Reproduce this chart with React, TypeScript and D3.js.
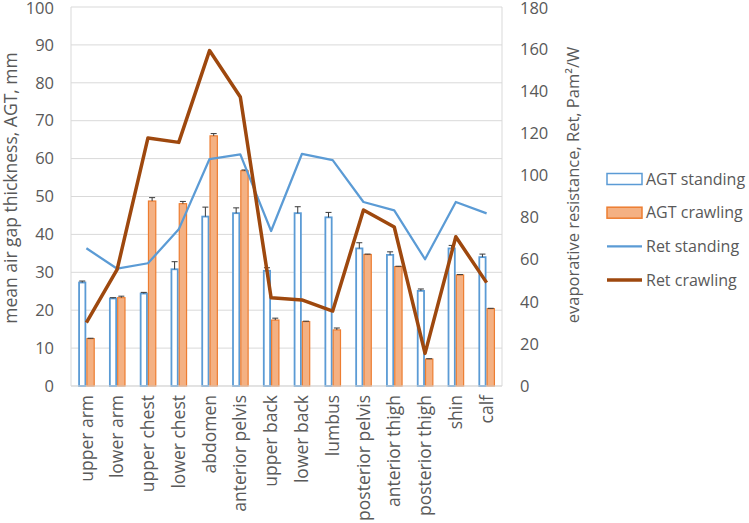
import React from "react";
import * as d3 from "d3";

const categories = ["upper arm", "lower arm", "upper chest", "lower chest", "abdomen", "anterior pelvis", "upper back", "lower back", "lumbus", "posterior pelvis", "anterior thigh", "posterior thigh", "shin", "calf"];
const agtStanding = [27.3, 23.1, 24.4, 30.8, 44.7, 45.6, 30.4, 45.6, 44.5, 36.3, 34.6, 25.1, 36.3, 34.0];
const agtStandingErr = [0.4, 0.2, 0.3, 2.0, 2.5, 1.4, 0.8, 1.7, 1.3, 1.5, 0.8, 0.5, 0.8, 0.8];
const agtCrawling = [12.5, 23.3, 48.8, 48.1, 66.0, 56.8, 17.4, 17.0, 14.8, 34.7, 31.5, 7.1, 29.3, 20.4];
const agtCrawlingErr = [0.1, 0.4, 0.9, 0.6, 0.6, 0.2, 0.5, 0.1, 0.5, 0.1, 0.1, 0.1, 0.1, 0.1];
const retStanding = [65.4, 55.7, 58.3, 74.4, 107.8, 110.0, 73.6, 110.2, 107.3, 87.4, 83.4, 60.2, 87.4, 82.0];
const retCrawling = [30.1, 55.4, 117.8, 115.7, 159.3, 137.3, 41.9, 40.9, 35.6, 83.6, 75.5, 15.5, 70.9, 49.1];
const leftTicks = [0, 10, 20, 30, 40, 50, 60, 70, 80, 90, 100];
const rightTicks = [0, 20, 40, 60, 80, 100, 120, 140, 160, 180];

const W = 749, H = 523;
const L = 71, R = 502, T = 7, B = 386;
const FONT = "'Open Sans', 'Noto Sans', sans-serif";
const TXT = "#595959";
const BLUE = "#5B9BD5";
const ORANGE = "#ED7D31";
const ORANGE_FILL = "#F4B183";
const BROWN = "#9E480E";

export default function App() {
  const x0 = d3.scaleBand<string>().domain(categories).range([L, R]).paddingInner(0.46).paddingOuter(0.23);
  const bw = x0.bandwidth();
  const x1 = d3.scaleBand<string>().domain(["s", "c"]).range([0, bw]);
  const yL = d3.scaleLinear().domain([0, 100]).range([B, T]);
  const yR = d3.scaleLinear().domain([0, 180]).range([B, T]);
  const cx = (c: string) => (x0(c) as number) + bw / 2;
  const line = d3.line<number>().x((_, i) => cx(categories[i])).y((d) => yR(d));

  const errBar = (x: number, v: number, e: number, key: string) => (
    <g key={key} stroke="#3a3a3a" strokeWidth={1}>
      <line x1={x} x2={x} y1={yL(v)} y2={yL(v + e)} />
      <line x1={x - 3} x2={x + 3} y1={yL(v + e)} y2={yL(v + e)} />
    </g>
  );

  const legend = [
    { label: "AGT standing", type: "bar", fill: "#fff", stroke: BLUE },
    { label: "AGT crawling", type: "bar", fill: ORANGE_FILL, stroke: ORANGE },
    { label: "Ret standing", type: "line", stroke: BLUE, w: 2.25 },
    { label: "Ret crawling", type: "line", stroke: BROWN, w: 3.5 },
  ];

  return (
    <svg width={W} height={H} style={{ position: "absolute", left: 0, top: 0, background: "#fff" }} fontFamily={FONT}>
      <rect x={0} y={0} width={W} height={H} fill="#fff" />
      {leftTicks.map((t) => (
        <line key={"g" + t} x1={L} x2={R} y1={yL(t)} y2={yL(t)} stroke="#D9D9D9" strokeWidth={1} />
      ))}
      <line x1={L} x2={L} y1={T} y2={B} stroke="#D9D9D9" />
      <line x1={R} x2={R} y1={T} y2={B} stroke="#D9D9D9" />
      {categories.map((c, i) => {
        const xs = (x0(c) as number) + (x1("s") as number);
        const xc = (x0(c) as number) + (x1("c") as number);
        const w = x1.bandwidth();
        return (
          <g key={c}>
            <rect x={xs + 1} y={yL(agtStanding[i])} width={w - 2} height={B - yL(agtStanding[i])} fill="#fff" stroke={BLUE} strokeWidth={1.8} />
            <rect x={xc + 0.5} y={yL(agtCrawling[i])} width={w - 1} height={B - yL(agtCrawling[i])} fill={ORANGE_FILL} stroke={ORANGE} strokeWidth={1.2} />
            {errBar(xs + w / 2, agtStanding[i], agtStandingErr[i], "es" + i)}
            {errBar(xc + w / 2, agtCrawling[i], agtCrawlingErr[i], "ec" + i)}
          </g>
        );
      })}
      <line x1={L} x2={R} y1={B} y2={B} stroke="#D9D9D9" strokeWidth={1} />
      <path d={line(retStanding) || ""} fill="none" stroke={BLUE} strokeWidth={2.25} strokeLinejoin="round" />
      <path d={line(retCrawling) || ""} fill="none" stroke={BROWN} strokeWidth={3.5} strokeLinejoin="round" />
      {leftTicks.map((t) => (
        <text key={"l" + t} x={54} y={yL(t) + (t === 100 ? 1 : 0)} dy="0.35em" textAnchor="end" fontSize={16.5} fill={TXT}>{t}</text>
      ))}
      {rightTicks.map((t) => (
        <text key={"r" + t} x={520} y={yR(t) + (t === 180 ? 1 : 0)} dy="0.35em" textAnchor="start" fontSize={16.5} fill={TXT}>{t}</text>
      ))}
      {categories.map((c) => (
        <text key={"x" + c} transform={`translate(${cx(c)},${395}) rotate(-90)`} dy="0.35em" textAnchor="end" fontSize={17.5} fill={TXT}>{c}</text>
      ))}
      <text transform={`translate(11,188) rotate(-90)`} dy="0.35em" textAnchor="middle" fontSize={17.5} fill={TXT}>mean air gap thickness, AGT, mm</text>
      <text transform={`translate(573,185) rotate(-90)`} dy="0.35em" textAnchor="middle" fontSize={16.5} fill={TXT}>evaporative resistance, Ret, Pam²/W</text>
      {legend.map((d, i) => {
        const y = 179 + i * 33.7;
        return (
          <g key={d.label}>
            {d.type === "bar" ? (
              <rect x={607} y={y - 5.5} width={35} height={11} fill={d.fill} stroke={d.stroke} strokeWidth={1.5} />
            ) : (
              <line x1={607} x2={642} y1={y} y2={y} stroke={d.stroke} strokeWidth={d.w} />
            )}
            <text x={646} y={y} dy="0.35em" fontSize={16} fill={TXT}>{d.label}</text>
          </g>
        );
      })}
    </svg>
  );
}
